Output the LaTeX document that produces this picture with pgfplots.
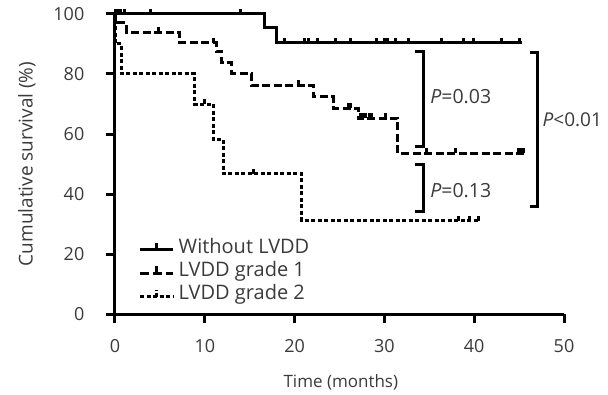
\documentclass[border=0pt]{standalone}
\usepackage{fontspec}
\setmainfont{Open Sans}
\usepackage{pgfplots}
\pgfplotsset{compat=1.18}
\definecolor{txt}{HTML}{3A3A3A}
\pgfdeclareplotmark{cens}{\pgfpathmoveto{\pgfpoint{0pt}{0pt}}\pgfpathlineto{\pgfpoint{0pt}{5pt}}\pgfusepathqstroke}
\begin{document}
\begin{tikzpicture}
\begin{axis}[
  at={(0,0)}, anchor=south west,
  scale only axis, width=449pt, height=300pt,
  xmin=0, xmax=50, ymin=0, ymax=100,
  axis lines=left, axis line style={-, line width=3pt},
  xtick={0,10,...,50}, ytick={0,20,...,100},
  tick style={line width=3pt, black},
  tick align=outside, major tick length=9pt,
  clip=false,
  font=\fontsize{18}{22}\selectfont,
  /pgf/number format/assume math mode=true,
  tick label style={text=txt},
  yticklabel style={anchor=east, inner sep=0pt, xshift=-21.5pt},
  xticklabel style={anchor=north, inner sep=0pt, yshift=-16pt},
  xlabel={Time (months)}, ylabel={Cumulative survival (\%)},
  xlabel style={at={(axis description cs:0.503,-0.228)}, anchor=center, text=txt, font=\fontsize{17}{20}\selectfont},
  ylabel style={at={(axis description cs:-0.196,0.5)}, anchor=center, text=txt, font=\fontsize{19}{22}\selectfont},
  legend style={at={(axis cs:2.6,13.6)}, anchor=west, draw=none, fill=none,
    inner sep=0pt, font=\fontsize{20}{23}\selectfont, text=txt, row sep=0pt,
    column sep=0pt,
    nodes={inner sep=0pt, text height=15pt, text depth=8.3pt}},
  legend cell align=left,
  legend image code/.code={
    \draw[#1, line width=3pt] (0pt,0pt) -- (33pt,0pt);
    \draw[line width=3pt] (16.5pt,0pt) -- (16.5pt,7pt);
    \path (38.5pt,0pt);
  },
]
% Without LVDD
\addplot[const plot, line width=3pt, black, forget plot] coordinates {
 (0,100) (16.7,95.6) (18.0,90.4) (45.3,90.4)};
\addplot[only marks, mark=cens, mark options={solid, line width=3pt}, black, forget plot] coordinates {
 (0.1,100) (0.4,100) (0.65,100) (1.1,100) (4.0,100) (14.0,100)
 (18.9,90.4) (21.1,90.4) (21.5,90.4) (22.5,90.4) (24.5,90.4) (26.2,90.4) (29.1,90.4)
 (30.0,90.4) (30.3,90.4) (31.2,90.4) (32.7,90.4) (36.4,90.4) (38.8,90.4) (39.9,90.4)
 (43.0,90.4) (45.1,90.4)};
% LVDD grade 1
\addplot[const plot, line width=3pt, black, dash pattern=on 8pt off 3.5pt, forget plot] coordinates {
 (0,100) (0.1,97) (1.3,93.9) (7.2,90.4) (11.3,87.4) (11.9,83.8) (13.0,80.2) (15.2,76.3)
 (22.1,72.4) (24.3,68.6) (27.1,65.2) (31.5,53.6) (45.6,53.6)};
\addplot[only marks, mark=cens, mark options={solid, line width=3pt}, black, forget plot] coordinates {
 (4.8,93.9) (10.95,90.4) (20.4,76.3) (26.0,68.6) (26.2,68.6)
 (27.3,65.2) (27.6,65.2) (27.9,65.2) (28.3,65.2) (28.6,65.2) (30.1,65.2)
 (34.7,53.6) (37.9,53.6) (44.9,53.6) (45.2,53.6) (45.5,53.6)};
% LVDD grade 2
\addplot[const plot, line width=3pt, black, dash pattern=on 4pt off 2.5pt, forget plot] coordinates {
 (0,100) (0.1,90) (0.75,80) (8.9,70) (10.95,58.3) (12.06,46.7) (20.8,31.1) (40.6,31.1)};
\addplot[only marks, mark=cens, mark options={solid, line width=3pt}, black, forget plot] coordinates {
 (10.0,70) (15.4,46.7) (38.2,31.1) (39.5,31.1) (40.5,31.1)};
% legend
\addlegendimage{solid}
\addlegendentry{Without LVDD}
\addlegendimage{dash pattern=on 9pt off 4pt}
\addlegendentry{LVDD grade 1}
\addlegendimage{dash pattern=on 4pt off 2.5pt}
\addlegendentry{LVDD grade 2}
% brackets
\draw[line width=3pt] (axis cs:33.4,87.4) -- (axis cs:34.3,87.4) -- (axis cs:34.3,55.8) -- (axis cs:33.4,55.8);
\draw[line width=3pt] (axis cs:33.4,50.0) -- (axis cs:34.3,50.0) -- (axis cs:34.3,34.1) -- (axis cs:33.4,34.1);
\draw[line width=3pt] (axis cs:46.2,87.3) -- (axis cs:47.1,87.3) -- (axis cs:47.1,35.8) -- (axis cs:46.2,35.8);
\node[anchor=west, text=txt, inner sep=0pt, font=\fontsize{19.5}{22}\selectfont] at (axis cs:35.1,72.5) {\textit{P}=0.03};
\node[anchor=west, text=txt, inner sep=0pt, font=\fontsize{19.5}{22}\selectfont] at (axis cs:35.1,41.3) {\textit{P}=0.13};
\node[anchor=west, text=txt, inner sep=0pt, font=\fontsize{19}{22}\selectfont] at (axis cs:47.6,64.7) {\textit{P}<0.01};
\end{axis}
\pgfresetboundingbox
\path[use as bounding box] (-115pt,-80pt) rectangle (493pt,314pt);
\end{tikzpicture}
\end{document}
